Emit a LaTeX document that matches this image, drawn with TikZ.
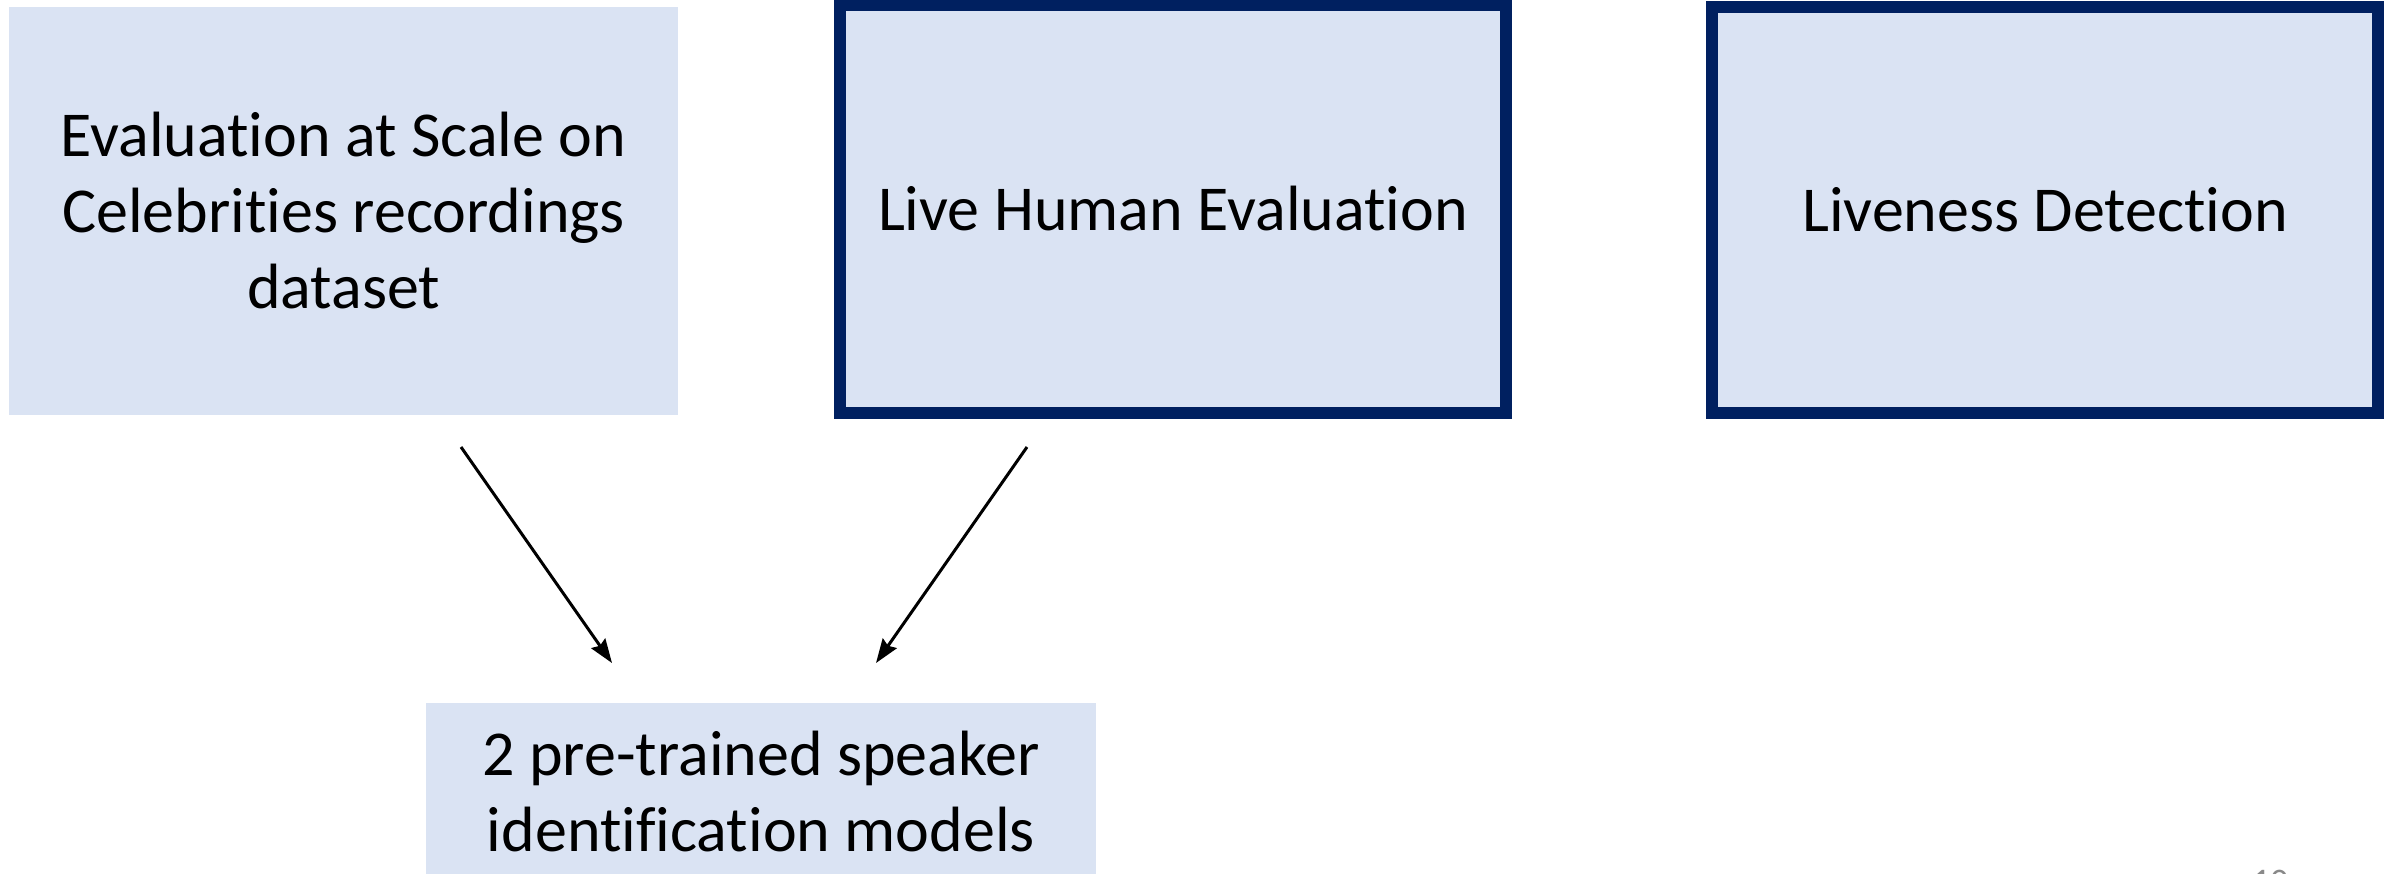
\documentclass[tikz,border=0pt]{standalone}
\usepackage{fontspec}
\setmainfont{Carlito}[Ligatures=NoCommon]
\usetikzlibrary{arrows.meta}
\definecolor{boxfill}{HTML}{DAE3F3}
\definecolor{navy}{HTML}{002060}
\definecolor{pagenum}{HTML}{898989}
\tikzset{
  stage/.style={rectangle, fill=boxfill, inner sep=0pt, align=center,
    font=\fontsize{64}{76}\selectfont},
  framed/.style={stage, draw=navy, line width=12pt},
  flow/.style={line width=3pt, -{Stealth[length=24pt,width=17pt,inset=3pt]}}
}
\begin{document}
\begin{tikzpicture}[x=1pt,y=-1pt]
  \useasboundingbox (0,0) rectangle (2397,873);
  \begin{scope}
    \clip (0,0) rectangle (2397,873);
    % top row of evaluation stages
    \node[stage, minimum width=669pt, minimum height=408pt] (scale) at (343.5,211)
      {Evaluation at Scale on\\Celebrities recordings\\dataset};
    \node[framed, minimum width=666pt, minimum height=408pt] (human) at (1173,209)
      {Live Human Evaluation};
    \node[framed, minimum width=666pt, minimum height=406pt] (live) at (2045,210)
      {Liveness Detection};
    % models box, running off the lower edge
    \node[stage, minimum width=670pt, minimum height=178pt] (models) at (761,792)
      {2 pre-trained speaker\\identification models};
    % arrow end points between the rows
    \coordinate (s1) at (461,447);
    \coordinate (e1) at (612,663);
    \coordinate (s2) at (1027,447);
    \coordinate (e2) at (876,663);
    \draw[flow] (s1) -- (e1);
    \draw[flow] (s2) -- (e2);
    % slide number, cut by the lower edge
    \node[anchor=north west, inner sep=0pt, text=pagenum,
      font=\fontsize{36}{40}\selectfont] (pg) at (2252,870) {10};
  \end{scope}
\end{tikzpicture}
\end{document}
